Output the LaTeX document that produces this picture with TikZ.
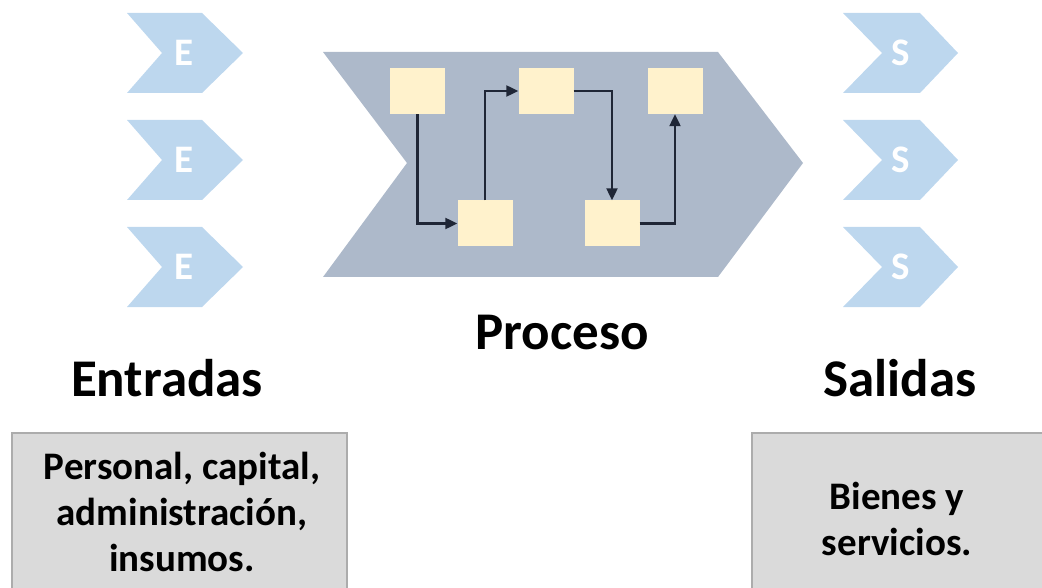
\documentclass[tikz,border=0pt]{standalone}
\usepackage{fontspec}
\setmainfont{Carlito}
\usetikzlibrary{arrows.meta}
\definecolor{chevblue}{HTML}{BDD7EE}
\definecolor{procgray}{HTML}{ADB9CA}
\definecolor{boxyellow}{HTML}{FFF2CC}
\definecolor{arrowdark}{HTML}{1F2636}
\definecolor{notegray}{HTML}{DADADA}

\begin{document}
\begin{tikzpicture}[x=1pt, y=-1pt,
  stepbox/.style={fill=boxyellow, minimum width=55pt, minimum height=46pt, inner sep=0pt},
  flow/.style={arrowdark, line width=2.2pt, -{Triangle[length=12pt, width=11pt]}},
  title/.style={font=\bfseries\fontsize{53}{62}\selectfont},
  letter/.style={white, font=\bfseries\fontsize{39}{46}\selectfont},
  notetext/.style={align=center, font=\bfseries\fontsize{39}{46}\selectfont},
  notebox/.style={fill=notegray, draw=gray!65, line width=1.5pt}]
\useasboundingbox (0,0) rectangle (1042,588);

% entradas y salidas
\foreach \y [count=\i] in {53,160,267} {
  \fill[chevblue] (127,\y-40) -- (202,\y-40) -- (243,\y) -- (202,\y+40) -- (127,\y+40) -- (162,\y) -- cycle;
  \node[letter] (e\i) at (184,\y) {E};
  \fill[chevblue] (843,\y-40) -- (920,\y-40) -- (958,\y) -- (920,\y+40) -- (843,\y+40) -- (882,\y) -- cycle;
  \node[letter] (s\i) at (901,\y) {S};
}

% proceso
\fill[procgray] (323,52) -- (718,52) -- (803,163) -- (718,277) -- (323,277) -- (407,163) -- cycle;
\node[stepbox] (b1) at (417.5,91) {};
\node[stepbox] (b2) at (546,91) {};
\node[stepbox] (b3) at (675,91) {};
\node[stepbox] (b4) at (485,223.5) {};
\node[stepbox] (b5) at (612,223.5) {};

\draw[flow] (b1.south) |- (b4.west);
\draw[flow] (b4.north) |- (b2.west);
\draw[flow] (b2.east) -| (b5.north);
\draw[flow] (b5.east) -| (b3.south);

% titulos
\node[title] (entradas) at (167,378) {Entradas};
\node[title] (proceso) at (562,333) {Proceso};
\node[title] (salidas) at (900,378) {Salidas};

% cuadros de abajo
\draw[notebox] (12,433) rectangle (347,600);
\draw[notebox] (752,433) rectangle (1050,600);
\node[notetext] (insumos) at (182,512) {Personal, capital,\\administración,\\insumos.};
\node[notetext] (bienes) at (897,519) {Bienes y\\servicios.};

\end{tikzpicture}
\end{document}
